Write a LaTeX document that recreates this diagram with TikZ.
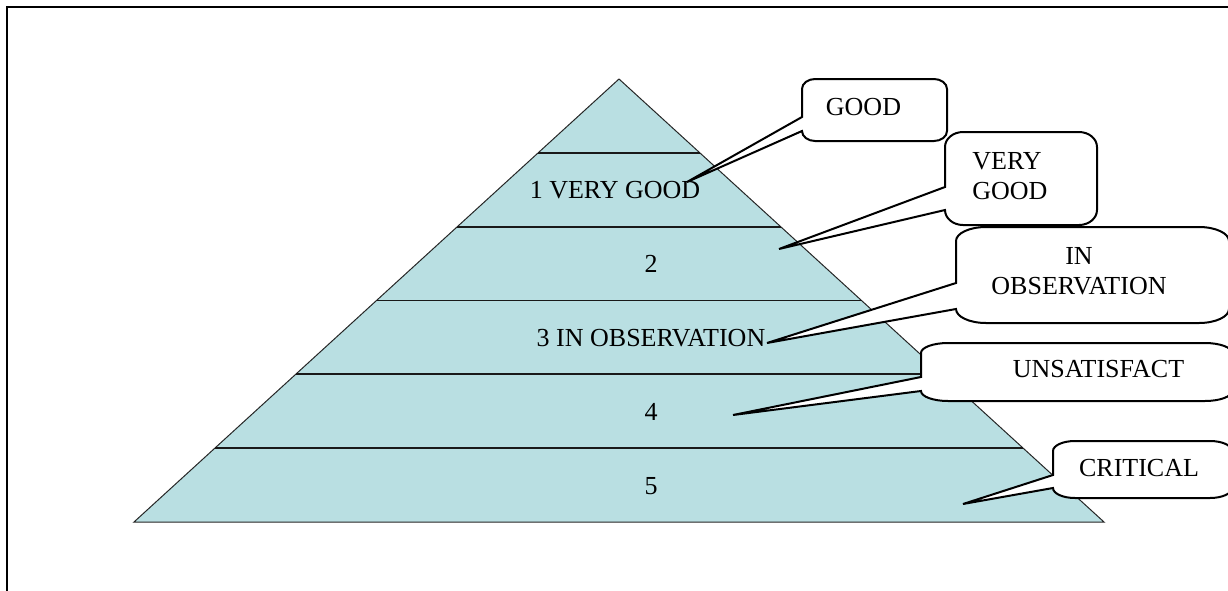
\documentclass[tikz,border=0pt]{standalone}
\usepackage{fontspec}
\setmainfont{Liberation Serif}
\usetikzlibrary{calc}
\definecolor{pyramidblue}{RGB}{185,223,226}

%% rounded callout box with a wedge pointer:
%% left, top, right, bottom, wedge top, wedge bottom, tip, x radius, y radius
\newcommand{\bubble}[9]{%
    \filldraw[bubblebox] (#1,#5) -- (#1,#2+#9)
        arc[start angle=180, end angle=270, x radius=#8, y radius=#9] -- (#3-#8,#2)
        arc[start angle=270, end angle=360, x radius=#8, y radius=#9] -- (#3,#4-#9)
        arc[start angle=0, end angle=90, x radius=#8, y radius=#9] -- (#1+#8,#4)
        arc[start angle=90, end angle=180, x radius=#8, y radius=#9] -- (#1,#6)
        -- (#7) -- cycle;}

\begin{document}
\begin{tikzpicture}
    [x=0.5pt, y=-0.5pt,
    every node/.style={font=\fontsize{13pt}{15pt}\selectfont, inner sep=0pt},
    pyramid/.style={fill=pyramidblue, draw=black!85, line width=0.5pt},
    bandline/.style={draw=black!90, line width=0.9pt},
    bubblebox/.style={fill=white, draw=black, line width=1pt},
    pageframe/.style={draw=black, line width=1pt}]
        %% Page
        \useasboundingbox (0,0) rectangle (1228,590);
        \clip (0,0) rectangle (1228,590);
        \draw[pageframe] (7,600) -- (7,7) -- (1240,7);

        %% Pyramid
        \coordinate (apex) at (619,79);
        \coordinate (bl) at (134,522);
        \coordinate (br) at (1104,522);
        \draw[pyramid] (bl) -- (apex) -- (br) -- cycle;
        \draw[bandline] ($(apex)!1/6!(bl)$) -- ($(apex)!1/6!(br)$);
        \draw[bandline] ($(apex)!2/6!(bl)$) -- ($(apex)!2/6!(br)$);
        \draw[bandline] ($(apex)!3/6!(bl)$) -- ($(apex)!3/6!(br)$);
        \draw[bandline] ($(apex)!4/6!(bl)$) -- ($(apex)!4/6!(br)$);
        \draw[bandline] ($(apex)!5/6!(bl)$) -- ($(apex)!5/6!(br)$);

        \node (lvl1) at (615,190) {1 VERY GOOD};
        \node (lvl2) at (651,264) {2};
        \node (lvl3) at (651,338) {3 IN OBSERVATION};
        \node (lvl4) at (651,412) {4};
        \node (lvl5) at (651,486) {5};

        %% Callouts
        \coordinate (goodtip) at (687,182);
        \coordinate (verygoodtip) at (779,249);
        \coordinate (inobstip) at (767,343);
        \coordinate (unsattip) at (733,415);
        \coordinate (criticaltip) at (963,504);

        \bubble{802}{79}{947}{141}{117}{131}{goodtip}{13}{10}
        \node (good) at (863.5,107.5) {GOOD};

        \bubble{945}{132}{1097}{225}{187}{210}{verygoodtip}{18}{15}
        \node[anchor=west, align=left] (verygood) at (972,176) {VERY\\GOOD};

        \bubble{956}{227}{1229}{323}{283}{309}{inobstip}{30}{14}
        \node[align=center] (inobs) at (1079,271.5) {IN\\OBSERVATION};

        \bubble{921}{343}{1232}{401}{377}{391}{unsattip}{27}{10}
        \node (unsat) at (1098.5,369.5) {UNSATISFACT};

        \bubble{1053}{441}{1232}{498}{475}{488}{criticaltip}{22}{10}
        \node (critical) at (1139,468.5) {CRITICAL};
    \end{tikzpicture}
\end{document}
